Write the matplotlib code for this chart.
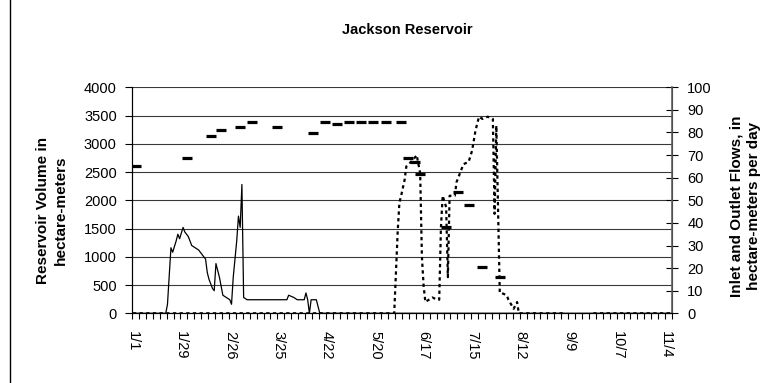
import matplotlib.pyplot as plt
from matplotlib.lines import Line2D

# days counted from 1/1 (leap year)
inlet_days = [0, 19, 20, 22, 23, 25, 26, 27, 29, 30, 32, 34, 36, 38, 40, 42, 43, 44,
              46, 47, 48, 50, 52, 54, 56, 57, 58, 60, 61, 62, 63, 64, 66, 89, 90, 93,
              95, 99, 100, 101, 102, 103, 106, 108, 311]
inlet_flow = [0, 0, 4, 29, 27, 32, 35, 33, 38, 36, 34, 30, 29, 28, 26, 24, 18, 15,
              11, 10, 22, 16, 8, 7, 6, 4, 16, 32, 43, 38, 57, 7, 6, 6, 8, 7,
              6, 6, 9, 6, 0, 6, 6, 0, 0]

outlet_days = [0, 151, 153, 154, 155, 157, 158, 162, 164, 166, 167, 168, 169, 173,
               176, 177, 178, 179, 181, 182, 183, 186, 187, 191, 194, 196, 198, 200,
               202, 205, 208, 209, 210, 212, 213, 216, 217, 220, 222, 223, 250, 258,
               266, 311]
outlet_flow = [0, 0, 36, 49, 52, 59, 65, 68, 70, 62, 25, 12, 5, 7,
               6, 6, 38, 52, 47, 16, 52, 52, 58, 66, 67, 72, 81, 87,
               86, 87, 86, 44, 83, 9, 9, 8, 6, 2, 5, 0, 0, float('nan'),
               0, 0]

volume_days = [2, 31, 45, 51, 62, 69, 83, 104, 111, 118, 125, 132, 139, 146, 155,
               159, 163, 166, 181, 188, 194, 202, 212]
volume = [2600, 2750, 3130, 3240, 3300, 3380, 3300, 3190, 3380, 3350, 3380, 3380,
          3380, 3380, 3380, 2750, 2670, 2470, 1530, 2140, 1920, 825, 640]

tick_days = [0, 28, 56, 84, 112, 140, 168, 196, 224, 252, 280, 308]
tick_labels = ['1/1', '1/29', '2/26', '3/25', '4/22', '5/20', '6/17', '7/15',
               '8/12', '9/9', '10/7', '11/4']

plt.rcParams['font.family'] = ['Liberation Sans', 'DejaVu Sans']

W, H = 775, 383
fig = plt.figure(figsize=(W / 100, H / 100), dpi=100)
ax = fig.add_axes([132 / W, 1 - 313.3 / H, 540 / W, 226 / H])
ax2 = ax.twinx()

# reservoir volume observations (left axis)
ax.plot(volume_days, volume, linestyle='none', marker='_', color='black',
        markersize=7.5, markeredgewidth=2.3, zorder=5)
ax.set_ylim(0, 4000)
ax.set_yticks(range(0, 4001, 500))
ax.set_xlim(-0.5, 311.5)
ax.grid(axis='y', color='#383838', linewidth=0.8)
ax.set_axisbelow(True)

# flows (right axis)
ax2.plot(inlet_days, inlet_flow, color='black', linewidth=0.9)
ax2.plot(outlet_days, outlet_flow, color='black', linewidth=1.6,
         dashes=(1.5, 1.5))
ax2.set_ylim(0, 100)
ax2.set_yticks(range(0, 101, 10))
ax2.set_xlim(-0.5, 311.5)

ax.set_xticks(tick_days)
ax.set_xticklabels(tick_labels, rotation=270, fontsize=10.5)
ax.set_xticks([d - 0.5 for d in range(0, 313, 4)], minor=True)
ax.tick_params(axis='x', which='major', length=0, pad=12.5)
ax.tick_params(axis='x', which='minor', length=4, width=0.8, direction='out')
ax.tick_params(axis='y', length=5, width=0.8, direction='out', pad=6, labelsize=10.5)
ax2.tick_params(axis='y', length=8, width=0.8, direction='inout', pad=7,
                labelsize=10.5, colors='black')

for s in ['top']:
    ax.spines[s].set_visible(False)
    ax2.spines[s].set_visible(False)
ax2.spines['right'].set_color('#606060')
ax2.spines['right'].set_linewidth(1.2)

fig.text(407 / W, 1 - 30 / H, 'Jackson Reservoir', ha='center', va='center',
         fontsize=10.5, fontweight='bold')
fig.text(52 / W, 1 - 210 / H, 'Reservoir Volume in\nhectare-meters', ha='center',
         va='center', rotation=90, fontsize=11, fontweight='bold', linespacing=1.3)
fig.text(745 / W, 1 - 206 / H, 'Inlet and Outlet Flows, in\nhectare-meters per day',
         ha='center', va='center', rotation=90, fontsize=11, fontweight='bold',
         linespacing=1.3)

# frame edge on the left side of the chart area
fig.lines.append(Line2D([10 / W, 10 / W], [0, 1], transform=fig.transFigure,
                        color='black', linewidth=1))

fig.savefig('out.png', dpi=100)
